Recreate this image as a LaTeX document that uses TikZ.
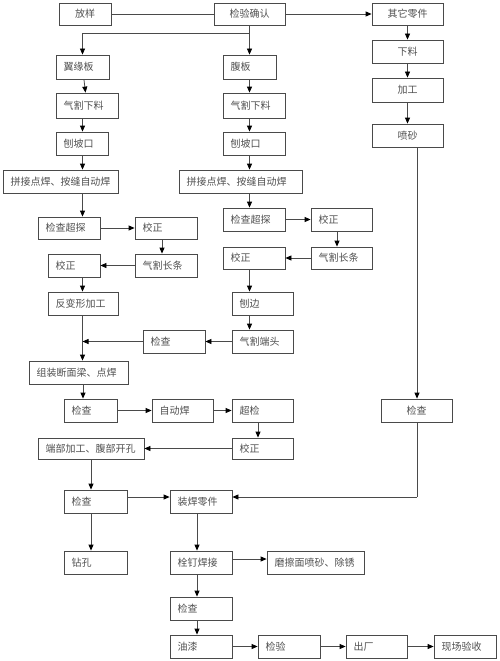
\documentclass[tikz,border=0pt]{standalone}
\usepackage{fontspec}
\newfontfamily\cjk{Noto Sans CJK SC}
\usetikzlibrary{arrows.meta}
\definecolor{ln}{HTML}{4A4A4A}
\definecolor{tx}{HTML}{505050}
\tikzset{
  bx/.style={draw=ln, line width=0.8pt, rectangle, inner ysep=0pt, text=tx,
    font=\cjk\fontsize{10}{12}\selectfont},
  ar/.style={draw=ln, line width=0.8pt, -{Triangle[length=6pt,width=5pt,color=black]}},
  pl/.style={draw=ln, line width=0.8pt}
}
\newcommand\Lb[6]{%
  \pgfmathsetmacro\bw{#3-#2}\pgfmathsetmacro\bh{#5-#4}\pgfmathsetmacro\tw{#3-#2-15}%
  \pgfmathsetmacro\cx{(#2+#3)/2}\pgfmathsetmacro\cy{(#4+#5)/2}%
  \node[bx, inner xsep=7.5pt, minimum width=\bw pt, minimum height=\bh pt, text width=\tw pt, align=left] (#1) at (\cx,\cy) {#6};}
\newcommand\Cb[6]{%
  \pgfmathsetmacro\bw{#3-#2}\pgfmathsetmacro\bh{#5-#4}%
  \pgfmathsetmacro\cx{(#2+#3)/2}\pgfmathsetmacro\cy{(#4+#5)/2}%
  \node[bx, inner xsep=0pt, minimum width=\bw pt, minimum height=\bh pt] (#1) at (\cx,\cy) {#6};}
\begin{document}
\begin{tikzpicture}[x=1pt,y=-1pt]
\useasboundingbox[fill=white] (0,0) rectangle (500,661);
% top
\Cb{fy}{59}{111}{3}{25}{放样}
\Cb{jy}{214}{285}{3}{25}{检验确认}
\Cb{qt}{372}{443}{3}{25}{其它零件}
% left column
\Lb{a1}{56}{109}{55}{79}{翼缘板}
\Lb{a2}{56}{118}{93}{118}{气割下料}
\Lb{a3}{56}{108}{132}{155}{刨坡口}
\Lb{a4}{3}{118}{170}{193}{拼接点焊、按缝自动焊}
\Lb{a5}{38}{100}{217}{239}{检查超探}
\Lb{a6}{135}{197}{217}{239}{校正}
\Lb{a7}{135}{197}{254}{277}{气割长条}
\Lb{a8}{48}{100}{254}{277}{校正}
\Lb{a9}{48}{118}{292}{315}{反变形加工}
% middle column
\Lb{b1}{223}{276}{55}{79}{腹板}
\Lb{b2}{223}{285}{93}{118}{气割下料}
\Lb{b3}{223}{285}{132}{155}{刨坡口}
\Lb{b4}{179}{302}{170}{193}{拼接点焊、按缝自动焊}
\Lb{b5}{223}{285}{208}{231}{检查超探}
\Lb{b6}{311}{372}{208}{231}{校正}
\Lb{b7}{311}{372}{247}{269}{气割长条}
\Lb{b8}{223}{285}{247}{269}{校正}
\Lb{b9}{232}{293}{292}{315}{刨边}
\Lb{b10}{232}{293}{330}{353}{气割端头}
\Lb{b11}{143}{205}{330}{353}{检查}
% right column
\Cb{c1}{372}{443}{40}{63}{下料}
\Cb{c2}{372}{443}{78}{102}{加工}
\Cb{c3}{372}{443}{124}{147}{喷砂}
\Cb{c4}{381}{452}{399}{422}{检查}
% lower
\Lb{d1}{29}{128}{361}{384}{组装断面梁、点焊}
\Lb{d2}{64}{117}{399}{422}{检查}
\Lb{d3}{152}{213}{399}{422}{自动焊}
\Lb{d4}{232}{293}{399}{422}{超检}
\Lb{d5}{232}{293}{438}{459}{校正}
\Lb{d6}{38}{144}{438}{459}{端部加工、腹部开孔}
\Lb{e1}{64}{127}{490}{513}{检查}
\Lb{e2}{170}{232}{490}{513}{装焊零件}
\Lb{e3}{64}{127}{551}{574}{钻孔}
\Lb{e4}{170}{232}{551}{574}{栓钉焊接}
\Lb{e5}{267}{364}{551}{574}{磨擦面喷砂、除锈}
\Lb{e6}{170}{232}{597}{620}{检查}
\Lb{e7}{170}{232}{635}{658}{油漆}
\Lb{e8}{258}{320}{635}{658}{检验}
\Lb{e9}{346}{407}{635}{658}{出厂}
\Lb{e10}{434}{496}{635}{658}{现场验收}
% helper coordinates
\coordinate (xl) at (82.5,0);
\coordinate (xm) at (249.5,0);
\coordinate (sp) at (249.5,33);
\coordinate (xr) at (417,0);
\coordinate (t1) at (417,497);
% connectors top
\draw[pl] (fy.east) -- (jy.west);
\draw[ar] (jy.east) -- (qt.west);
\draw[pl] (jy.south) -- (sp);
\draw[ar] (sp) -| (a1.north);
\draw[ar] (sp) -- (b1.north);
% left column
\draw[ar] (a1) -- (a2);
\draw[ar] (a2.south -| xl) -- (a3.north -| xl);
\draw[ar] (a3.south -| xl) -- (a4.north -| xl);
\draw[ar] (a4.south -| xl) -- (a5.north -| xl);
\draw[ar] (a5.east) -- (a6.west);
\draw[ar] (a6.south -| 162,0) -- (a7.north -| 162,0);
\draw[ar] (a7.west) -- (a8.east);
\draw[ar] (a8.south -| xl) -- (a9.north -| xl);
\draw[ar] (a9.south -| xl) -- (d1.north -| xl);
% middle column
\draw[ar] (b1.south -| xm) -- (b2.north -| xm);
\draw[ar] (b2.south -| xm) -- (b3.north -| xm);
\draw[ar] (b3.south -| xm) -- (b4.north -| xm);
\draw[ar] (b4.south -| xm) -- (b5.north -| xm);
\draw[ar] (b5.east) -- (b6.west);
\draw[ar] (b6.south -| 337,0) -- (b7.north -| 337,0);
\draw[ar] (b7.west) -- (b8.east);
\draw[ar] (b8.south -| xm) -- (b9.north -| xm);
\draw[ar] (b9.south -| xm) -- (b10.north -| xm);
\draw[ar] (b10.west) -- (b11.east);
\draw[ar] (b11.west) -- (b11.west -| xl);
% right column
\draw[ar] (qt) -- (c1);
\draw[ar] (c1) -- (c2);
\draw[ar] (c2) -- (c3);
\draw[ar] (c3.south -| xr) -- (c4.north -| xr);
\draw[pl] (c4.south -| xr) -- (t1);
\draw[ar] (t1) -- (t1 -| e2.east);
% lower
\draw[ar] (d1.south -| 83,0) -- (d2.north -| 83,0);
\draw[ar] (d2.east) -- (d3.west);
\draw[ar] (d3.east) -- (d4.west);
\draw[ar] (d4.south -| 258,0) -- (d5.north -| 258,0);
\draw[ar] (d5.west) -- (d6.east);
\draw[ar] (d6.south -| 91,0) -- (e1.north -| 91,0);
\draw[ar] (e1.east |- t1) -- (e2.west |- t1);
\draw[ar] (e1.south -| 91,0) -- (e3.north -| 91,0);
\draw[ar] (e2.south -| 197,0) -- (e4.north -| 197,0);
\draw[ar] (e4.east |- 0,559) -- (e5.west |- 0,559);
\draw[ar] (e4.south -| 197,0) -- (e6.north -| 197,0);
\draw[ar] (e6.south -| 197,0) -- (e7.north -| 197,0);
\draw[ar] (e7.east) -- (e8.west);
\draw[ar] (e8.east) -- (e9.west);
\draw[ar] (e9.east) -- (e10.west);
\end{tikzpicture}
\end{document}
